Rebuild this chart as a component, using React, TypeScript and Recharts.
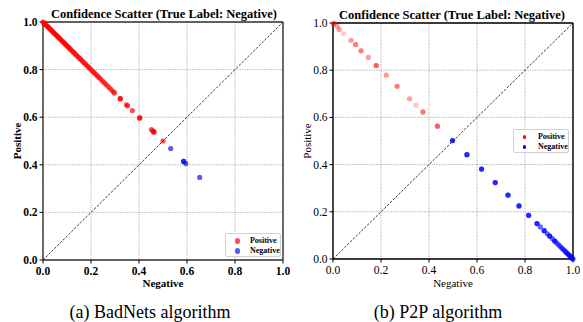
import React from "react";
import { ScatterChart, Scatter, XAxis, YAxis, ZAxis, CartesianGrid, ReferenceLine } from "recharts";

// [negative, positive] confidence pairs
const badnetsPositive: [number, number][] = [
  [0.0, 1.0], [0.004, 0.996], [0.007, 0.993], [0.011, 0.989], [0.015, 0.985], [0.019, 0.981],
  [0.022, 0.978], [0.026, 0.974], [0.031, 0.969], [0.035, 0.965], [0.039, 0.961], [0.043, 0.957],
  [0.047, 0.953], [0.052, 0.948], [0.056, 0.944], [0.061, 0.939], [0.065, 0.935], [0.069, 0.931],
  [0.074, 0.926], [0.079, 0.921], [0.083, 0.917], [0.088, 0.912], [0.093, 0.907], [0.098, 0.902],
  [0.103, 0.897], [0.108, 0.892], [0.113, 0.887], [0.118, 0.882], [0.124, 0.876], [0.129, 0.871],
  [0.135, 0.865], [0.141, 0.859], [0.147, 0.853], [0.153, 0.847], [0.159, 0.841], [0.165, 0.835],
  [0.172, 0.828], [0.178, 0.822], [0.185, 0.815], [0.191, 0.809], [0.198, 0.802], [0.205, 0.795],
  [0.212, 0.788], [0.219, 0.781], [0.226, 0.774], [0.233, 0.767], [0.241, 0.759], [0.249, 0.751],
  [0.257, 0.743], [0.265, 0.735], [0.274, 0.726], [0.283, 0.717], [0.292, 0.708], [0.298, 0.702],
  [0.322, 0.678], [0.322, 0.678], [0.348, 0.652], [0.352, 0.648], [0.372, 0.628],
  [0.403, 0.597], [0.403, 0.597], [0.452, 0.548], [0.458, 0.542], [0.462, 0.538], [0.462, 0.538],
  [0.5, 0.5],
];
const badnetsNegative: [number, number][] = [
  [0.532, 0.468], [0.586, 0.414], [0.586, 0.414], [0.595, 0.405], [0.653, 0.347],
];

const p2pPositive: [number, number][] = [
  [0.003, 0.997], [0.003, 0.997], [0.003, 0.997], [0.003, 0.997],
  [0.017, 0.986], [0.017, 0.986], [0.026, 0.972], [0.026, 0.972], [0.044, 0.955],
  [0.075, 0.927], [0.075, 0.927], [0.094, 0.909], [0.094, 0.909], [0.094, 0.909],
  [0.117, 0.882], [0.117, 0.882], [0.117, 0.882], [0.147, 0.854], [0.147, 0.854],
  [0.18, 0.82], [0.18, 0.82], [0.18, 0.82], [0.18, 0.82], [0.222, 0.779], [0.222, 0.779],
  [0.267, 0.732], [0.267, 0.732], [0.267, 0.732], [0.319, 0.679], [0.319, 0.679],
  [0.346, 0.652], [0.375, 0.623], [0.375, 0.623], [0.375, 0.623],
  [0.435, 0.563], [0.435, 0.563], [0.435, 0.563], [0.435, 0.563],
];
const p2pNegative: [number, number][] = [
  [0.498, 0.502], [0.498, 0.502], [0.558, 0.442], [0.558, 0.442], [0.619, 0.381], [0.619, 0.381],
  [0.676, 0.324], [0.676, 0.324], [0.729, 0.271], [0.729, 0.271], [0.775, 0.225], [0.775, 0.225],
  [0.815, 0.185], [0.815, 0.185], [0.85, 0.15], [0.85, 0.15], [0.864, 0.136],
  [0.88, 0.12], [0.88, 0.12], [0.893, 0.107], [0.903, 0.097], [0.903, 0.097], [0.914, 0.086],
  [0.924, 0.076], [0.924, 0.076], [0.933, 0.067], [0.941, 0.059], [0.948, 0.052], [0.955, 0.045],
  [0.961, 0.039], [0.967, 0.033], [0.972, 0.028], [0.977, 0.023], [0.981, 0.019], [0.985, 0.015],
  [0.989, 0.011], [0.992, 0.008], [0.995, 0.005], [0.998, 0.002], [1.0, 0.0],
];

const ticks = [0, 0.2, 0.4, 0.6, 0.8, 1.0];
const title = "Confidence Scatter (True Label: Negative)";
const seriesNames = ["Positive", "Negative"];
const captions = ["(a) BadNets algorithm", "(b) P2P algorithm"];

const serif = "Liberation Serif, serif";
const toPts = (arr: [number, number][]) => arr.map(([x, y]) => ({ x, y }));

interface PanelProps {
  left: number;
  top: number;
  xHeight: number;
  bold: boolean;
  pos: [number, number][];
  neg: [number, number][];
  posOpacity: number;
  negOpacity: number;
  spine: string;
}

function Panel({ left, top, xHeight, bold, pos, neg, posOpacity, negOpacity, spine }: PanelProps) {
  const weight = bold ? "bold" : "normal";
  const labelStyle = { fontFamily: serif, fontSize: 11, fontWeight: weight, fill: "#000" };
  const dot = (color: string, op: number) => (p: any) => (
    <circle cx={p.cx} cy={p.cy} r={2.6} fill={color} fillOpacity={op} />
  );
  const xTick = (p: any) => (
    <text x={p.x} y={p.y + 9} textAnchor="middle" fontFamily={serif} fontSize={11.5} fontWeight={weight} fill="#000">
      {Number(p.payload.value).toFixed(1)}
    </text>
  );
  const yTick = (p: any) => (
    <text x={p.x} y={p.y + 4} textAnchor="end" fontFamily={serif} fontSize={11.5} fontWeight={weight} fill="#000">
      {Number(p.payload.value).toFixed(1)}
    </text>
  );
  return (
    <div style={{ position: "absolute", left, top: 0 }}>
      <ScatterChart width={290} height={300} margin={{ top, right: 7, bottom: 0, left: 0 }} style={{ fontFamily: serif }}>
        <CartesianGrid stroke="#9a9a9a" strokeDasharray="1.2 1.2" strokeWidth={0.8} />
        <XAxis
          type="number"
          dataKey="x"
          domain={[0, 1]}
          ticks={ticks}
          height={xHeight}
          tickSize={3.5}
          tick={xTick}
          axisLine={{ stroke: spine, strokeWidth: 1.4 }}
          tickLine={{ stroke: "#000" }}
          label={{ value: "Negative", position: "insideBottom", offset: 13, style: labelStyle }}
        />
        <YAxis
          type="number"
          dataKey="y"
          domain={[0, 1]}
          ticks={ticks}
          width={43}
          tickSize={3.5}
          tick={yTick}
          axisLine={{ stroke: spine, strokeWidth: 1.4 }}
          tickLine={{ stroke: "#000" }}
          label={{ value: "Positive", angle: -90, position: "insideLeft", offset: 17, style: { ...labelStyle, textAnchor: "middle" } }}
        />
        <ZAxis range={[20, 20]} />
        <ReferenceLine y={1} stroke={spine} strokeWidth={1.4} />
        <ReferenceLine x={1} stroke={spine} strokeWidth={1.4} />
        <ReferenceLine segment={[{ x: 0, y: 0 }, { x: 1, y: 1 }]} stroke="#000" strokeWidth={0.8} strokeDasharray="2.5 1.5" />
        <Scatter name={seriesNames[0]} data={toPts(pos)} shape={dot("#ff0000", posOpacity)} isAnimationActive={false} />
        <Scatter name={seriesNames[1]} data={toPts(neg)} shape={dot("#0000ff", negOpacity)} isAnimationActive={false} />
      </ScatterChart>
    </div>
  );
}

function LegendBox({ left, top, r, colors }: { left: number; top: number; r: number; colors: string[] }) {
  return (
    <div
      style={{
        position: "absolute", left, top, width: 56, height: 24, boxSizing: "border-box",
        border: "1px solid #d0d0d0", borderRadius: 2, background: "rgba(255,255,255,0.85)",
        fontFamily: serif, fontSize: 8, fontWeight: "bold", padding: "2px 0 0 9px", lineHeight: 1,
      }}
    >
      {seriesNames.map((n, i) => (
        <div key={n} style={{ display: "flex", alignItems: "center", height: 10 }}>
          <span style={{ width: r * 2, height: r * 2, borderRadius: "50%", background: colors[i], display: "inline-block" }} />
          <span style={{ marginLeft: 15 - r * 2 }}>{n}</span>
        </div>
      ))}
    </div>
  );
}

const titleStyle: React.CSSProperties = {
  position: "absolute", width: 260, textAlign: "center", fontFamily: serif, fontSize: 12.5, fontWeight: "bold", lineHeight: 1,
};
const captionStyle: React.CSSProperties = {
  position: "absolute", width: 240, textAlign: "center", fontFamily: serif, fontSize: 18, lineHeight: 1,
};

export default function App() {
  return (
    <div style={{ position: "fixed", left: 0, top: 0, width: 583, height: 322, background: "#fff", overflow: "hidden" }}>
      <div style={{ ...titleStyle, left: 34, top: 8 }}>{title}</div>
      <div style={{ ...titleStyle, left: 322, top: 9 }}>{title}</div>
      <Panel left={0} top={22} xHeight={40} bold pos={badnetsPositive} neg={badnetsNegative} posOpacity={0.7} negOpacity={0.65} spine="#333" />
      <Panel left={290} top={23} xHeight={41} bold={false} pos={p2pPositive} neg={p2pNegative} posOpacity={0.22} negOpacity={0.62} spine="#000" />
      <LegendBox left={225} top={233} r={2.6} colors={["rgba(255,0,0,0.7)", "rgba(0,0,255,0.65)"]} />
      <LegendBox left={513} top={129} r={1.7} colors={["#ff0000", "#0000ff"]} />
      <div style={{ ...captionStyle, left: 30, top: 303 }}>{captions[0]}</div>
      <div style={{ ...captionStyle, left: 318, top: 303 }}>{captions[1]}</div>
    </div>
  );
}
